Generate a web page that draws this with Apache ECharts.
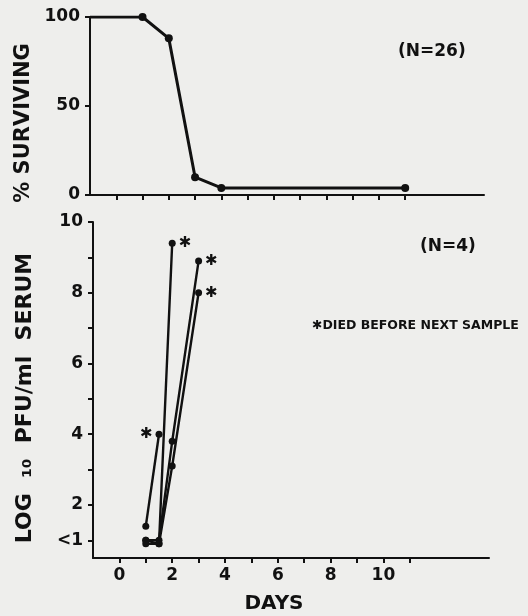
<!DOCTYPE html>
<html>
<head>
<meta charset="utf-8">
<script src="https://cdn.jsdelivr.net/npm/echarts@6/dist/echarts.min.js"></script>
<style>
  html, body { margin: 0; padding: 0; background: #eeeeec; }
  #chart { width: 528px; height: 616px; }
</style>
</head>
<body>
<div id="chart"></div>
<script>
// top panel: % surviving (N=26)
const survDays = [-1, 1, 2, 3, 4, 11];
const survPct = [100, 100, 88, 10, 4, 4];

// bottom panel: log10 PFU/ml serum (N=4), sampled on these days
const sampleDays = [1, 1.5, 2, 3];
const animalA = [1.4, 4.0];
const animalB = [1.0, 0.9, 9.4];
const animalC = [1.0, 1.0, 3.8, 8.9];
const animalD = [0.9, 0.9, 3.1, 8.0];
// which side the "died" star sits on
const starSide = ['left', 'right', 'right', 'right'];

const dayTicks = [0, 1, 2, 3, 4, 5, 6, 7, 8, 9, 10, 11];
const dayLabels = [0, 2, 4, 6, 8, 10];
const logTicks = [1, 2, 3, 4, 5, 6, 7, 8, 9, 10];
const logLabels = [1, 2, 4, 6, 8, 10];

const FONT = 'DejaVu Sans';
const INK = '#111';

const chart = echarts.init(document.getElementById('chart'), null, { renderer: 'canvas' });

function animalSeries(vals, side) {
  return {
    type: 'line',
    xAxisIndex: 1,
    yAxisIndex: 1,
    symbol: 'circle',
    symbolSize: 7,
    lineStyle: { color: INK, width: 2.4 },
    itemStyle: { color: INK },
    data: vals.map((v, i) => {
      const pt = { value: [sampleDays[i], v] };
      if (i === vals.length - 1) {
        // died before next sample
        pt.label = {
          show: true, position: side, formatter: '\u2731',
          color: INK, fontSize: 15, distance: 3
        };
      }
      return pt;
    }),
    z: 3
  };
}

const axisCommon = {
  axisLine: { show: true, onZero: false, lineStyle: { color: INK, width: 2 } },
  axisTick: { show: true, inside: false, length: 5, lineStyle: { color: INK, width: 2 } },
  splitLine: { show: false }
};

const option = {
  backgroundColor: '#eeeeec',
  animation: false,
  textStyle: { fontFamily: FONT },
  grid: [
    { left: 90, top: 17, width: 394, height: 178, outerBoundsMode: 'none' },
    { left: 93, top: 222, width: 396, height: 336, outerBoundsMode: 'none' }
  ],
  xAxis: [
    Object.assign({}, axisCommon, {
      type: 'value', gridIndex: 0, min: -1, max: 14,
      axisTick: Object.assign({}, axisCommon.axisTick, { customValues: dayTicks }),
      axisLabel: { show: false }
    }),
    Object.assign({}, axisCommon, {
      type: 'value', gridIndex: 1, min: -1, max: 14,
      axisTick: Object.assign({}, axisCommon.axisTick, { customValues: dayTicks }),
      axisLabel: {
        customValues: dayLabels, color: INK, fontSize: 17, fontWeight: 'bold',
        fontFamily: FONT, margin: 9
      },
      name: 'DAYS', nameLocation: 'middle', nameGap: 36,
      nameTextStyle: {
        color: INK, fontSize: 20, fontWeight: 'bold', fontFamily: FONT,
        padding: [0, 34, 0, 0]
      }
    })
  ],
  yAxis: [
    Object.assign({}, axisCommon, {
      type: 'value', gridIndex: 0, min: 0, max: 100, interval: 50,
      axisLabel: { color: INK, fontSize: 17, fontWeight: 'bold', fontFamily: FONT, margin: 10 },
      name: '% SURVIVING', nameLocation: 'middle', nameRotate: 90, nameGap: 54,
      nameTextStyle: {
        color: INK, fontSize: 21, fontWeight: 'bold', fontFamily: FONT,
        padding: [0, 34, 0, 0]
      }
    }),
    Object.assign({}, axisCommon, {
      type: 'value', gridIndex: 1, min: 0.5, max: 10,
      axisTick: Object.assign({}, axisCommon.axisTick, { customValues: logTicks }),
      axisLabel: {
        customValues: logLabels, color: INK, fontSize: 17, fontWeight: 'bold',
        fontFamily: FONT, margin: 10,
        formatter: v => (v === 1 ? '<1' : String(v))
      },
      name: 'LOG  \u2081\u2080  PFU/ml  SERUM', nameLocation: 'middle', nameRotate: 90, nameGap: 57,
      nameTextStyle: {
        color: INK, fontSize: 22, fontWeight: 'bold', fontFamily: FONT,
        padding: [0, 16, 0, 0]
      }
    })
  ],
  graphic: [
    { type: 'text', left: 398, top: 43, style: { text: '(N=26)', fill: INK, font: 'bold 17px "DejaVu Sans"' } },
    { type: 'text', left: 420, top: 238, style: { text: '(N=4)', fill: INK, font: 'bold 17px "DejaVu Sans"' } },
    { type: 'text', left: 312, top: 319, style: { text: '\u2731DIED BEFORE NEXT SAMPLE', fill: INK, font: 'bold 12.5px "DejaVu Sans"' } }
  ],
  series: [
    {
      type: 'line',
      xAxisIndex: 0,
      yAxisIndex: 0,
      symbol: 'circle',
      symbolSize: 8,
      lineStyle: { color: INK, width: 3 },
      itemStyle: { color: INK },
      data: survDays.map((d, i) => (i === 0
        ? { value: [d, survPct[i]], symbol: 'none' }
        : [d, survPct[i]]))
    },
    animalSeries(animalA, starSide[0]),
    animalSeries(animalB, starSide[1]),
    animalSeries(animalC, starSide[2]),
    animalSeries(animalD, starSide[3])
  ]
};

chart.setOption(option);
</script>
</body>
</html>
